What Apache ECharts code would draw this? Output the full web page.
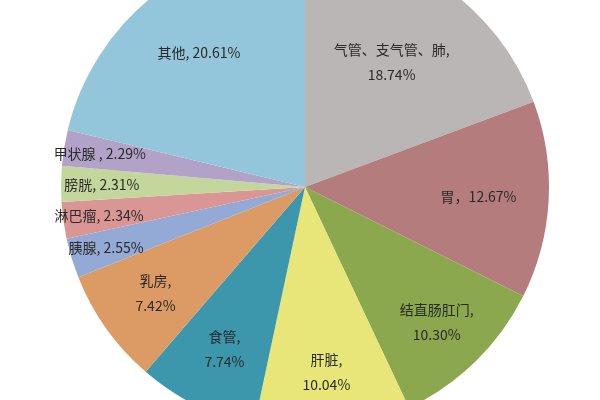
<!DOCTYPE html>
<html>
<head>
<meta charset="utf-8">
<script src="https://cdn.jsdelivr.net/npm/echarts@6/dist/echarts.min.js"></script>
<style>
  html, body { margin: 0; padding: 0; background: #fff; }
  #canvas { width: 600px; height: 400px; }
</style>
</head>
<body>
<div id="canvas"></div>
<script>
// 部位名称和所占比例 (%)
var names = ['气管、支气管、肺', '胃', '结直肠肛门', '肝脏', '食管', '乳房',
             '胰腺', '淋巴瘤', '膀胱', '甲状腺', '其他'];
var values = [18.74, 12.67, 10.30, 10.04, 7.74, 7.42, 2.55, 2.34, 2.31, 2.29, 20.61];
var colors = ['#bab6b5', '#b47c7c', '#8ba84e', '#e8e678', '#3c96ac', '#dc9b64',
              '#94aad6', '#d99694', '#c3d69b', '#b2a2c7', '#93c6da'];

function drawPie() {
    var myChart = echarts.init(document.getElementById('canvas'));
    var center = [305, 187];
    var r = 244;
    // 每个标签离圆心的距离 (半径的比例)
    var labelDist = [0.61, 0.70, 0.76, 0.75, 0.73, 0.74, 0.84, 0.84, 0.82, 0.84, 0.69];

    function labelText(p) {
        var v = p.value.toFixed(2) + '%';
        if (p.name === '胃') return '胃，' + v;
        if (p.name === '甲状腺') return '甲状腺 , ' + v;
        if (p.value < 5 || p.name === '其他') return p.name + ', ' + v;
        return p.name + ',\n' + v;
    }

    var series = [{
        type: 'pie',
        center: center,
        radius: r,
        startAngle: 90,
        data: names.map(function (n, i) {
            return { name: n, value: values[i], itemStyle: { color: colors[i] } };
        }),
        label: { show: false },
        labelLine: { show: false }
    }];

    // 透明饼图只用来放标签, 内半径决定标签位置
    names.forEach(function (name, k) {
        series.push({
            type: 'pie',
            center: center,
            radius: [(2 * labelDist[k] - 1) * r, r],
            startAngle: 90,
            silent: true,
            data: names.map(function (n, i) {
                return {
                    name: n, value: values[i],
                    itemStyle: { color: 'rgba(0,0,0,0)' },
                    label: { show: i === k }
                };
            }),
            label: {
                position: 'inside',
                formatter: labelText,
                color: '#2a2a2a',
                fontSize: 14,
                lineHeight: 25,
                fontFamily: 'Noto Sans CJK SC'
            },
            labelLine: { show: false }
        });
    });

    myChart.setOption({ animation: false, series: series });
}

drawPie();
</script>
</body>
</html>
